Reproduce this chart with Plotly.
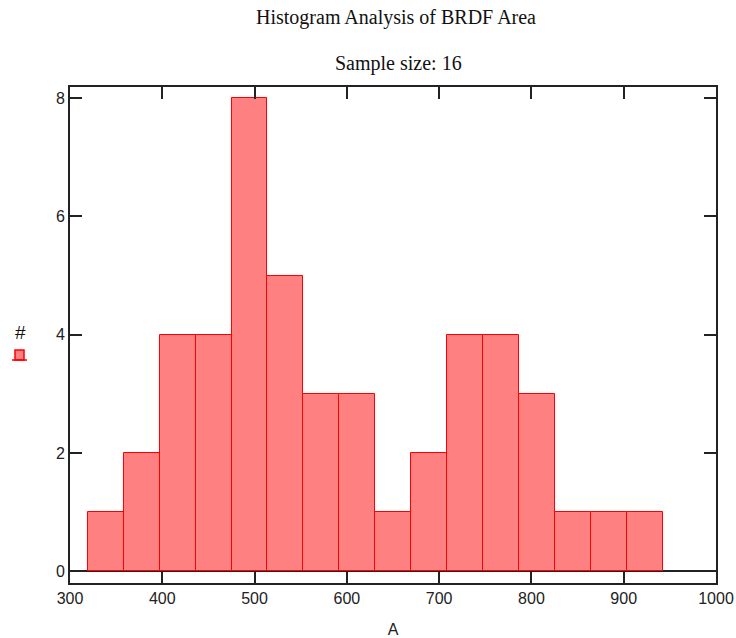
import plotly.graph_objects as go

# Data
bin_start = 319.2
bin_width = 38.95
counts = [1, 2, 4, 4, 8, 5, 3, 3, 1, 2, 4, 4, 3, 1, 1, 1]
x_ticks = [300, 400, 500, 600, 700, 800, 900, 1000]
y_ticks = [0, 2, 4, 6, 8]

title_text = "Histogram Analysis of BRDF Area"
subtitle_text = "Sample size: 16"
x_title = "A"
legend_label = "#"

centers = [bin_start + bin_width * (i + 0.5) for i in range(len(counts))]

FILL = "#FF8080"
EDGE = "#FF0000"
AX = "#222222"

fig = go.Figure()
fig.add_trace(go.Bar(
    x=centers, y=counts, width=bin_width,
    marker=dict(color=FILL, line=dict(color=EDGE, width=1)),
    showlegend=False, hoverinfo="x+y",
))

tickfont = dict(family="Liberation Sans, Arial, sans-serif", size=16, color=AX)

fig.update_layout(
    width=736, height=638,
    margin=dict(l=70, r=20, t=87, b=55),
    paper_bgcolor="white", plot_bgcolor="white",
    bargap=0,
    xaxis=dict(
        range=[300, 1000], tickvals=x_ticks, ticktext=[str(v) for v in x_ticks],
        automargin=False,
        showgrid=False, zeroline=False,
        showline=True, linecolor=AX, linewidth=2, mirror="ticks",
        ticks="inside", ticklen=12, tickwidth=2, tickcolor=AX,
        tickfont=tickfont,
        title=dict(text=x_title, font=tickfont, standoff=18),
    ),
    yaxis=dict(
        range=[-0.2, 8.19], tickvals=y_ticks,
        automargin=False,
        showgrid=False, zeroline=True, zerolinecolor=AX, zerolinewidth=2,
        showline=True, linecolor=AX, linewidth=2, mirror="ticks",
        ticks="inside", ticklen=12, tickwidth=2, tickcolor=AX,
        tickfont=tickfont,
    ),
    annotations=[
        dict(text=title_text, xref="paper", yref="paper", x=0.505, y=(583 - 17.5) / 496,
             showarrow=False, xanchor="center", yanchor="middle",
             font=dict(family="Liberation Serif, Times New Roman, serif", size=20, color="#111")),
        dict(text=subtitle_text, xref="paper", yref="paper", x=0.508, y=(583 - 63) / 496,
             showarrow=False, xanchor="center", yanchor="middle",
             font=dict(family="Liberation Serif, Times New Roman, serif", size=20, color="#111")),
        dict(text=legend_label, xref="paper", yref="paper", x=(20 - 70) / 646, y=(583 - 332) / 496,
             showarrow=False, xanchor="center", yanchor="middle",
             font=dict(family="Liberation Sans, Arial, sans-serif", size=19, color="#111")),
    ],
    shapes=[
        dict(type="rect", xref="paper", yref="paper",
             x0=(15 - 70) / 646, x1=(24 - 70) / 646, y0=(583 - 360) / 496, y1=(583 - 350) / 496,
             fillcolor=FILL, line=dict(color=EDGE, width=1.5)),
        dict(type="line", xref="paper", yref="paper",
             x0=(12 - 70) / 646, x1=(27 - 70) / 646, y0=(583 - 360) / 496, y1=(583 - 360) / 496,
             line=dict(color=EDGE, width=1.5)),
    ],
)

fig.write_html("out.html")
